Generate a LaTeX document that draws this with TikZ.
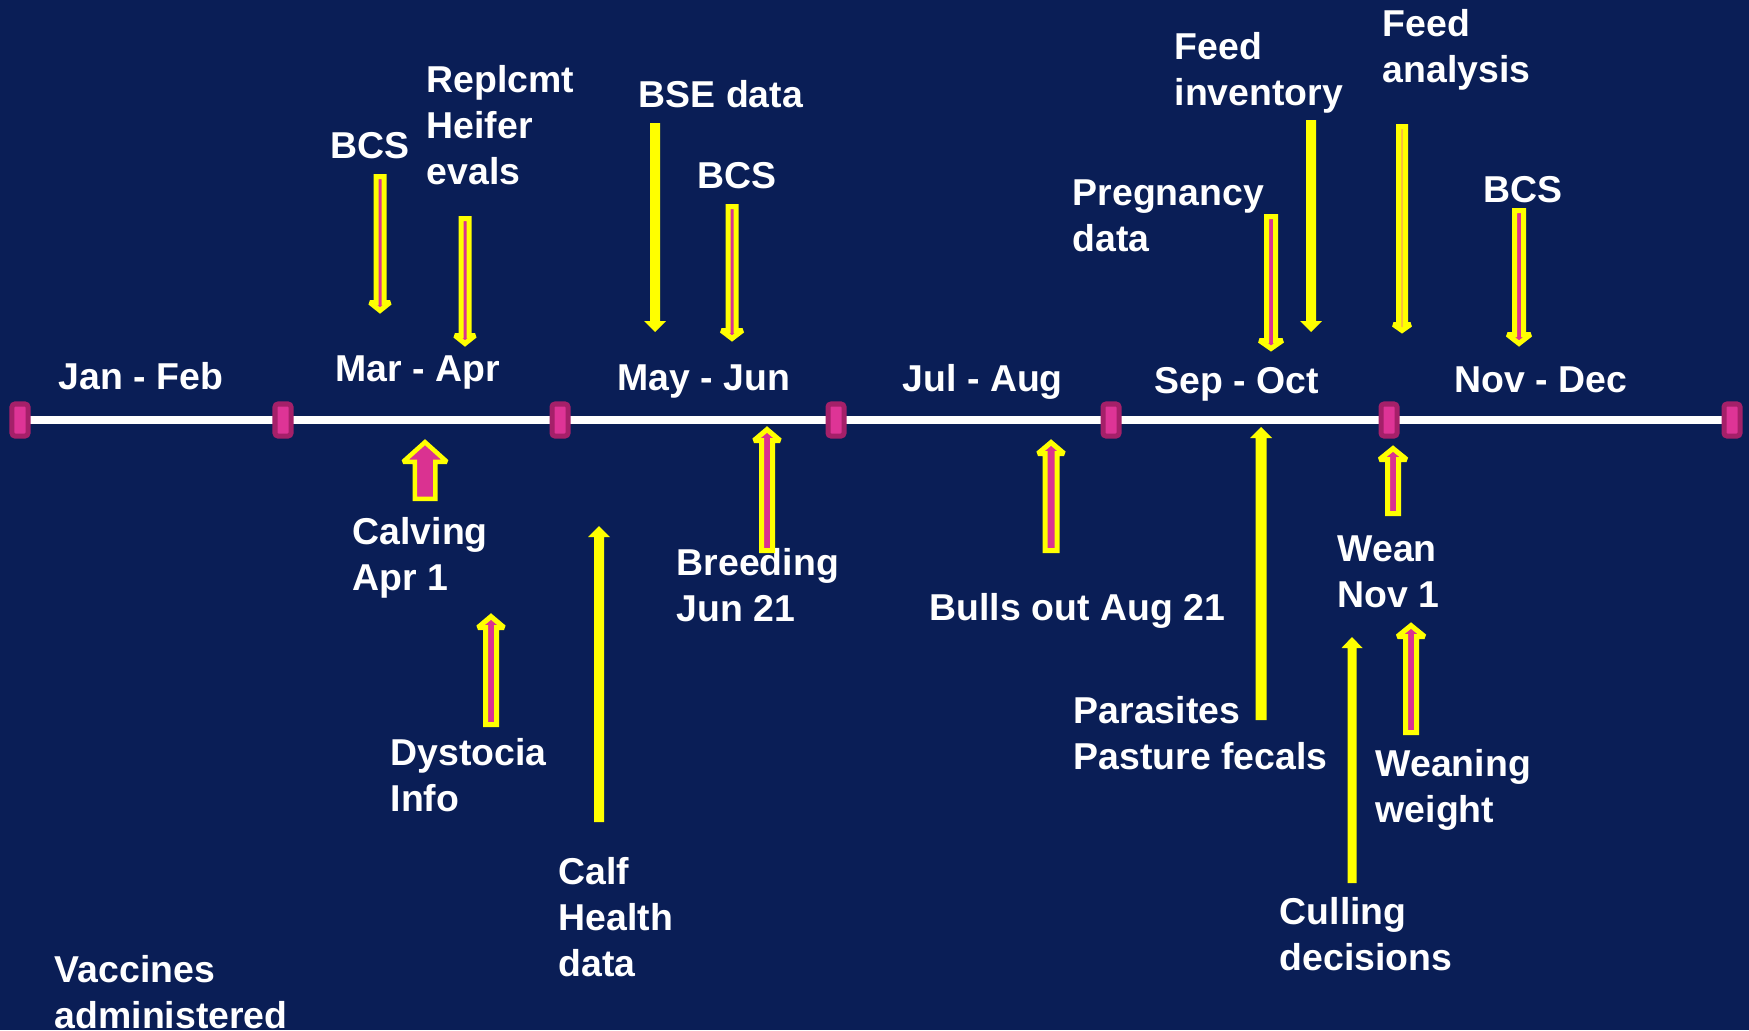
\documentclass[tikz,border=0pt]{standalone}
\usepackage{fontspec}
\setmainfont{Liberation Sans}
\definecolor{bg}{RGB}{10,30,86}
\definecolor{yel}{RGB}{255,255,0}
\definecolor{pinkf}{RGB}{218,50,145}
\definecolor{tickb}{RGB}{165,32,105}
\definecolor{tickf}{RGB}{222,52,150}
\definecolor{pale}{RGB}{250,190,60}
\def\sw{5}
\newcommand{\solarrow}[6]{%
  \pgfmathsetmacro\sgn{sign(#3-#2)}%
  \pgfmathsetmacro\hb{#3-\sgn*#6}%
  \fill[yel] (#1-#4/2,#2) -- (#1-#4/2,\hb) -- (#1-#5/2,\hb) -- (#1,#3) -- (#1+#5/2,\hb) -- (#1+#4/2,\hb) -- (#1+#4/2,#2) -- cycle;}
\newcommand{\holarrow}[7]{%
  \pgfmathsetmacro\sgn{sign(#4-#3)}%
  \pgfmathsetmacro\ta{#3+\sgn*\sw/2}%
  \pgfmathsetmacro\ti{#4-\sgn*\sw*0.7}%
  \pgfmathsetmacro\hb{#4-\sgn*(#7-\sw/2)}%
  \pgfmathsetmacro\hs{#5/2-\sw/2}%
  \pgfmathsetmacro\hh{#6/2-\sw*0.7}%
  \filldraw[fill=#1, draw=yel, line width=\sw*0.01cm, line join=miter, miter limit=2]
    (#2-\hs,\ta) -- (#2-\hs,\hb) -- (#2-\hh,\hb) -- (#2,\ti) -- (#2+\hh,\hb) -- (#2+\hs,\hb) -- (#2+\hs,\ta) -- cycle;}
\tikzset{
  txt/.style={text=white, font=\fontsize{10.64pt}{13pt}\selectfont\bfseries, anchor=north west, inner sep=0pt, align=left},
  tickbox/.style={draw=tickb, fill=tickf, line width=0.05cm, rounded corners=0.03cm, minimum width=0.16cm, minimum height=0.32cm, inner sep=0pt}
}
\begin{document}
\begin{tikzpicture}[x=0.01cm, y=-0.01cm]
\useasboundingbox (0,0) rectangle (1749,1030);
\fill[bg] (0,0) rectangle (1749,1030);
\begin{scope}
\clip (0,0) rectangle (1749,1030);
% timeline
\coordinate (c0) at (20,420);
\coordinate (c1) at (283,420);
\coordinate (c2) at (560,420);
\coordinate (c3) at (836,420);
\coordinate (c4) at (1111,420);
\coordinate (c5) at (1389,420);
\coordinate (c6) at (1732,420);
\draw[white, line width=0.08cm] (c0) -- (c6);
\foreach \i in {0,...,6} {\node[tickbox] (t\i) at (c\i) {};}
% period labels
\node[txt] (jan) at (58,362) {Jan - Feb};
\node[txt] (mar) at (335,355) {Mar - Apr};
\node[txt] (may) at (617,364) {May - Jun};
\node[txt] (jul) at (902,364) {Jul - Aug};
\node[txt] (sep) at (1154,367) {Sep - Oct};
\node[txt] (nov) at (1454,366) {Nov - Dec};
% upper labels
\node[txt] (bcs1) at (330,132) {BCS};
\node[txt] (repl) at (426,65) {Replcmt\\Heifer\\evals};
\node[txt] (bse) at (638,80) {BSE data};
\node[txt] (bcs2) at (697,162) {BCS};
\node[txt] (finv) at (1174,32) {Feed\\inventory};
\node[txt] (preg) at (1072,179) {Pregnancy\\data};
\node[txt] (fan) at (1382,9) {Feed\\analysis};
\node[txt] (bcs3) at (1483,176) {BCS};
% lower labels
\node[txt] (calv) at (352,517) {Calving\\Apr 1};
\node[txt] (dys) at (390,738) {Dystocia\\Info};
\node[txt] (calf) at (558,857) {Calf\\Health\\data};
\node[txt] (breed) at (676,548) {Breeding\\Jun 21};
\node[txt] (bulls) at (929,593) {Bulls out Aug 21};
\node[txt] (para) at (1073,696) {Parasites\\Pasture fecals};
\node[txt] (wean) at (1337,535) {Wean\\Nov 1};
\node[txt] (ww) at (1375,749) {Weaning\\weight};
\node[txt] (cull) at (1279,897) {Culling\\decisions};
\node[txt] (vacc) at (54,955) {Vaccines\\administered};
% down arrows
\holarrow{pinkf}{380}{174}{314}{13}{27}{14}
\holarrow{pinkf}{465}{216}{347}{13}{27}{14}
\solarrow{655}{123}{332}{10}{22}{11}
\holarrow{pinkf}{732}{204}{342}{13}{28}{14}
\holarrow{pinkf}{1271}{214}{352}{14}{30}{14}
\solarrow{1311}{120}{332}{10}{22}{11}
\holarrow{pale}{1402}{124}{334}{12}{24}{12}
\holarrow{pinkf}{1519}{208}{347}{14}{30}{15}
% up arrows
\holarrow{pinkf}{491}{727}{613}{16}{33}{17}
\holarrow{pinkf}{767}{553}{426}{16}{33}{17}
\holarrow{pinkf}{1051}{553}{439}{17}{33}{17}
\holarrow{pinkf}{1393}{516}{445}{16}{34}{17}
\holarrow{pinkf}{1411}{735}{622}{16}{34}{17}
\solarrow{599}{822}{526}{10}{22}{11}
\solarrow{1261}{720}{427}{11}{22}{11}
\solarrow{1352}{883}{637}{9}{21}{11}
\def\sw{4.5}
\holarrow{pinkf}{425}{501}{439}{25}{50}{25}
\end{scope}
\end{tikzpicture}
\end{document}
